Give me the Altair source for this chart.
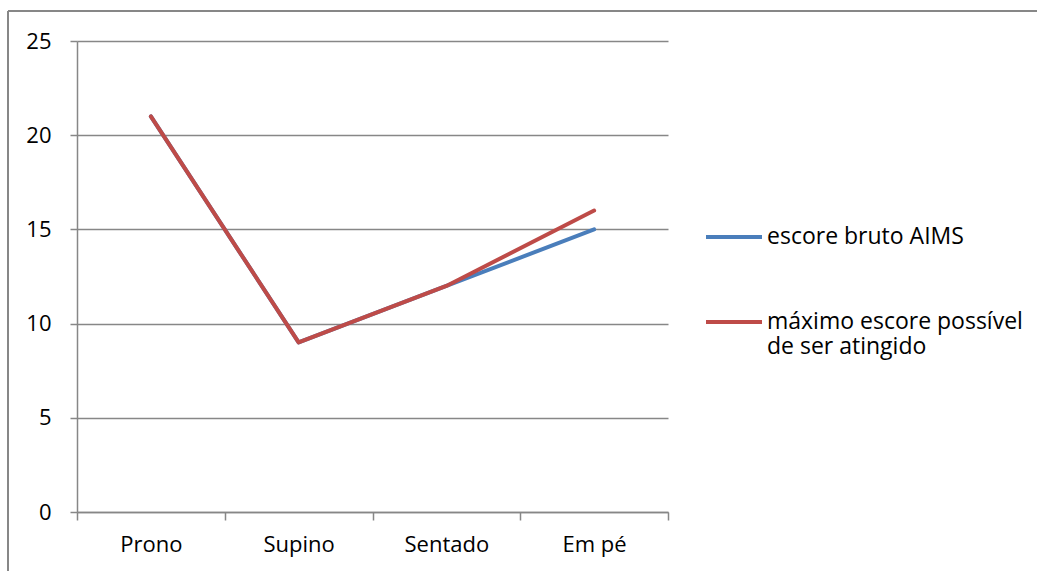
import altair as alt
import pandas as pd

categories = ["Prono", "Supino", "Sentado", "Em pé"]
escore_bruto = [21, 9, 12, 15]
maximo_escore = [21, 9, 12, 16]
series_names = ["escore bruto AIMS", "máximo escore possível de ser atingido"]
y_ticks = [0, 5, 10, 15, 20, 25]

rows = []
for c, v in zip(categories, escore_bruto):
    rows.append({"cat": c, "val": v, "serie": series_names[0], "ord": 0})
for c, v in zip(categories, maximo_escore):
    rows.append({"cat": c, "val": v, "serie": series_names[1], "ord": 1})
df = pd.DataFrame(rows)

FONT = "Open Sans"
GRAY = "#878787"

lines = alt.Chart(df).mark_line(strokeWidth=4, strokeJoin="round", strokeCap="round").encode(
    x=alt.X("cat:N", sort=categories,
            scale=alt.Scale(type="band", paddingInner=0, paddingOuter=0),
            axis=alt.Axis(title=None, labelAngle=0, tickBand="extent", grid=False,
                          tickSize=8, labelPadding=14, domainColor=GRAY, tickColor=GRAY,
                          domainWidth=1.5, tickWidth=1.5,
                          labelFont=FONT, labelFontSize=22, labelColor="black")),
    y=alt.Y("val:Q", scale=alt.Scale(domain=[0, 25], nice=False),
            axis=alt.Axis(title=None, values=y_ticks, tickSize=7, labelPadding=19,
                          grid=True, gridColor=GRAY, gridWidth=1.3,
                          domainColor=GRAY, tickColor=GRAY, domainWidth=1.5, tickWidth=1.5,
                          labelFont=FONT, labelFontSize=22, labelColor="black")),
    color=alt.Color("serie:N", sort=series_names,
                    scale=alt.Scale(domain=series_names, range=["#4A7EBB", "#BE4B48"]),
                    legend=alt.Legend(title=None, orient="none", legendX=627, legendY=166,
                                      symbolType="stroke", symbolSize=3136, symbolStrokeWidth=4,
                                      labelFontSize=23, labelFont=FONT, labelColor="black",
                                      labelOffset=3, rowPadding=43, labelLimit=400,
                                      labelExpr="datum.label == 'máximo escore possível de ser atingido' ? ['máximo escore possível', 'de ser atingido'] : datum.label")),
    order=alt.Order("ord:Q"),
    detail="serie:N",
)

frame_v = alt.Chart(df).mark_rule(color=GRAY, strokeWidth=2).encode(
    x=alt.value(-69), y=alt.value(-30), y2=alt.value(560))
frame_h = alt.Chart(df).mark_rule(color=GRAY, strokeWidth=2).encode(
    x=alt.value(-69), x2=alt.value(1000), y=alt.value(-30))

chart = alt.layer(frame_v, frame_h, lines).properties(
    width=591, height=471,
    autosize=alt.AutoSizeParams(type="none"),
    padding={"left": 77, "top": 41, "right": 369, "bottom": 59},
    background="white",
).configure_view(stroke=None)

chart.save("out.html", embed_options={"renderer": "svg", "actions": False})
